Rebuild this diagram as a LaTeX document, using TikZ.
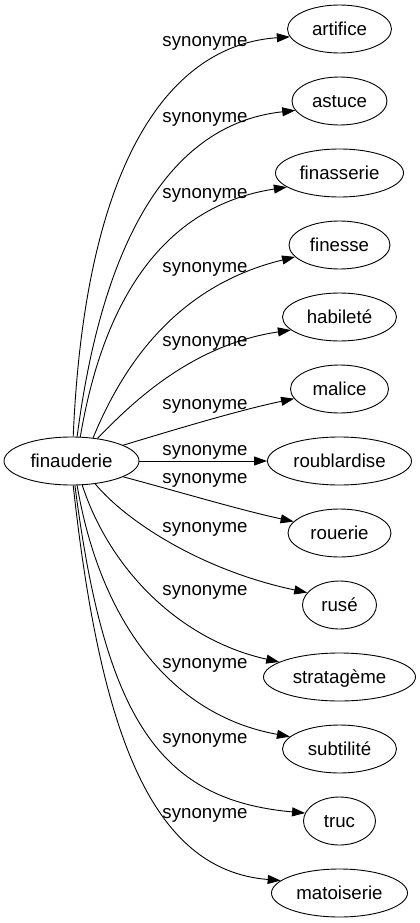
\documentclass[tikz,border=0pt]{standalone}
\usepackage{fontspec}
\setmainfont{Liberation Sans}
\usetikzlibrary{arrows.meta,shapes.geometric}
\begin{document}
\begin{tikzpicture}[x=1pt,y=-1pt,
  every node/.style={font=\fontsize{18.67}{22}\selectfont},
  word/.style={draw, ellipse, line width=0.9pt, inner sep=0pt, minimum height=48pt, text height=13.2pt, text depth=0pt},
  lab/.style={anchor=base, inner sep=0pt},
  edge/.style={draw, line width=0.9pt, -{Triangle[length=13pt,width=9pt]}}]
\useasboundingbox (0,0) rectangle (420,923);
\node[word, minimum width=135pt] (fin) at (71.5,461) {finauderie};
\node[word, minimum width=104pt] (artifice) at (339.5,29) {artifice};
\node[word, minimum width=95pt] (astuce) at (339.5,101) {astuce};
\node[word, minimum width=128pt] (finasserie) at (339.5,173) {finasserie};
\node[word, minimum width=101pt] (finesse) at (339.5,245) {finesse};
\node[word, minimum width=114pt] (habilete) at (339.5,317) {habileté};
\node[word, minimum width=98pt] (malice) at (339.5,389) {malice};
\node[word, minimum width=144pt] (roublardise) at (339.5,461) {roublardise};
\node[word, minimum width=103pt] (rouerie) at (339.5,533) {rouerie};
\node[word, minimum width=74pt] (ruse) at (339.5,605) {rusé};
\node[word, minimum width=152pt] (stratageme) at (339.5,677) {stratagème};
\node[word, minimum width=114pt] (subtilite) at (339.5,749) {subtilité};
\node[word, minimum width=72pt] (truc) at (339.5,821) {truc};
\node[word, minimum width=136pt] (matoiserie) at (339.5,893) {matoiserie};
\node[lab] (l1) at (205,47) {synonyme};
\node[lab] (l2) at (205,123) {synonyme};
\node[lab] (l3) at (205,198) {synonyme};
\node[lab] (l4) at (205,272) {synonyme};
\node[lab] (l5) at (205,346) {synonyme};
\node[lab] (l6) at (205,409) {synonyme};
\node[lab] (l7) at (205,455) {synonyme};
\node[lab] (l8) at (205,483) {synonyme};
\node[lab] (l9) at (205,532) {synonyme};
\node[lab] (l10) at (205,595) {synonyme};
\node[lab] (l11) at (205,668) {synonyme};
\node[lab] (l12) at (205,743) {synonyme};
\node[lab] (l13) at (205,818) {synonyme};
\draw[edge] (fin.86) .. controls (85,160) and (170,45) .. (artifice.189);
\draw[edge] (fin.77) .. controls (100,260) and (160,125) .. (astuce.192);
\draw[edge] (fin.70) .. controls (105,290) and (170,205) .. (finasserie.195);
\draw[edge] (fin.47) .. controls (125,360) and (180,285) .. (finesse.195);
\draw[edge] (fin.41) .. controls (130,405) and (190,345) .. (habilete.195);
\draw[edge] (fin.17) .. controls (180,428) and (240,410) .. (malice.192);
\draw[edge] (fin.east) -- (roublardise.west);
\draw[edge] (fin.-17) .. controls (180,492) and (240,510) .. (rouerie.166);
\draw[edge] (fin.-44) .. controls (125,520) and (200,570) .. (ruse.159);
\draw[edge] (fin.-66) .. controls (110,570) and (180,640) .. (stratageme.166);
\draw[edge] (fin.-77) .. controls (100,620) and (170,715) .. (subtilite.166);
\draw[edge] (fin.-82) .. controls (105,720) and (160,800) .. (truc.167);
\draw[edge] (fin.-86) .. controls (100,730) and (150,870) .. (matoiserie.168);
\end{tikzpicture}
\end{document}
